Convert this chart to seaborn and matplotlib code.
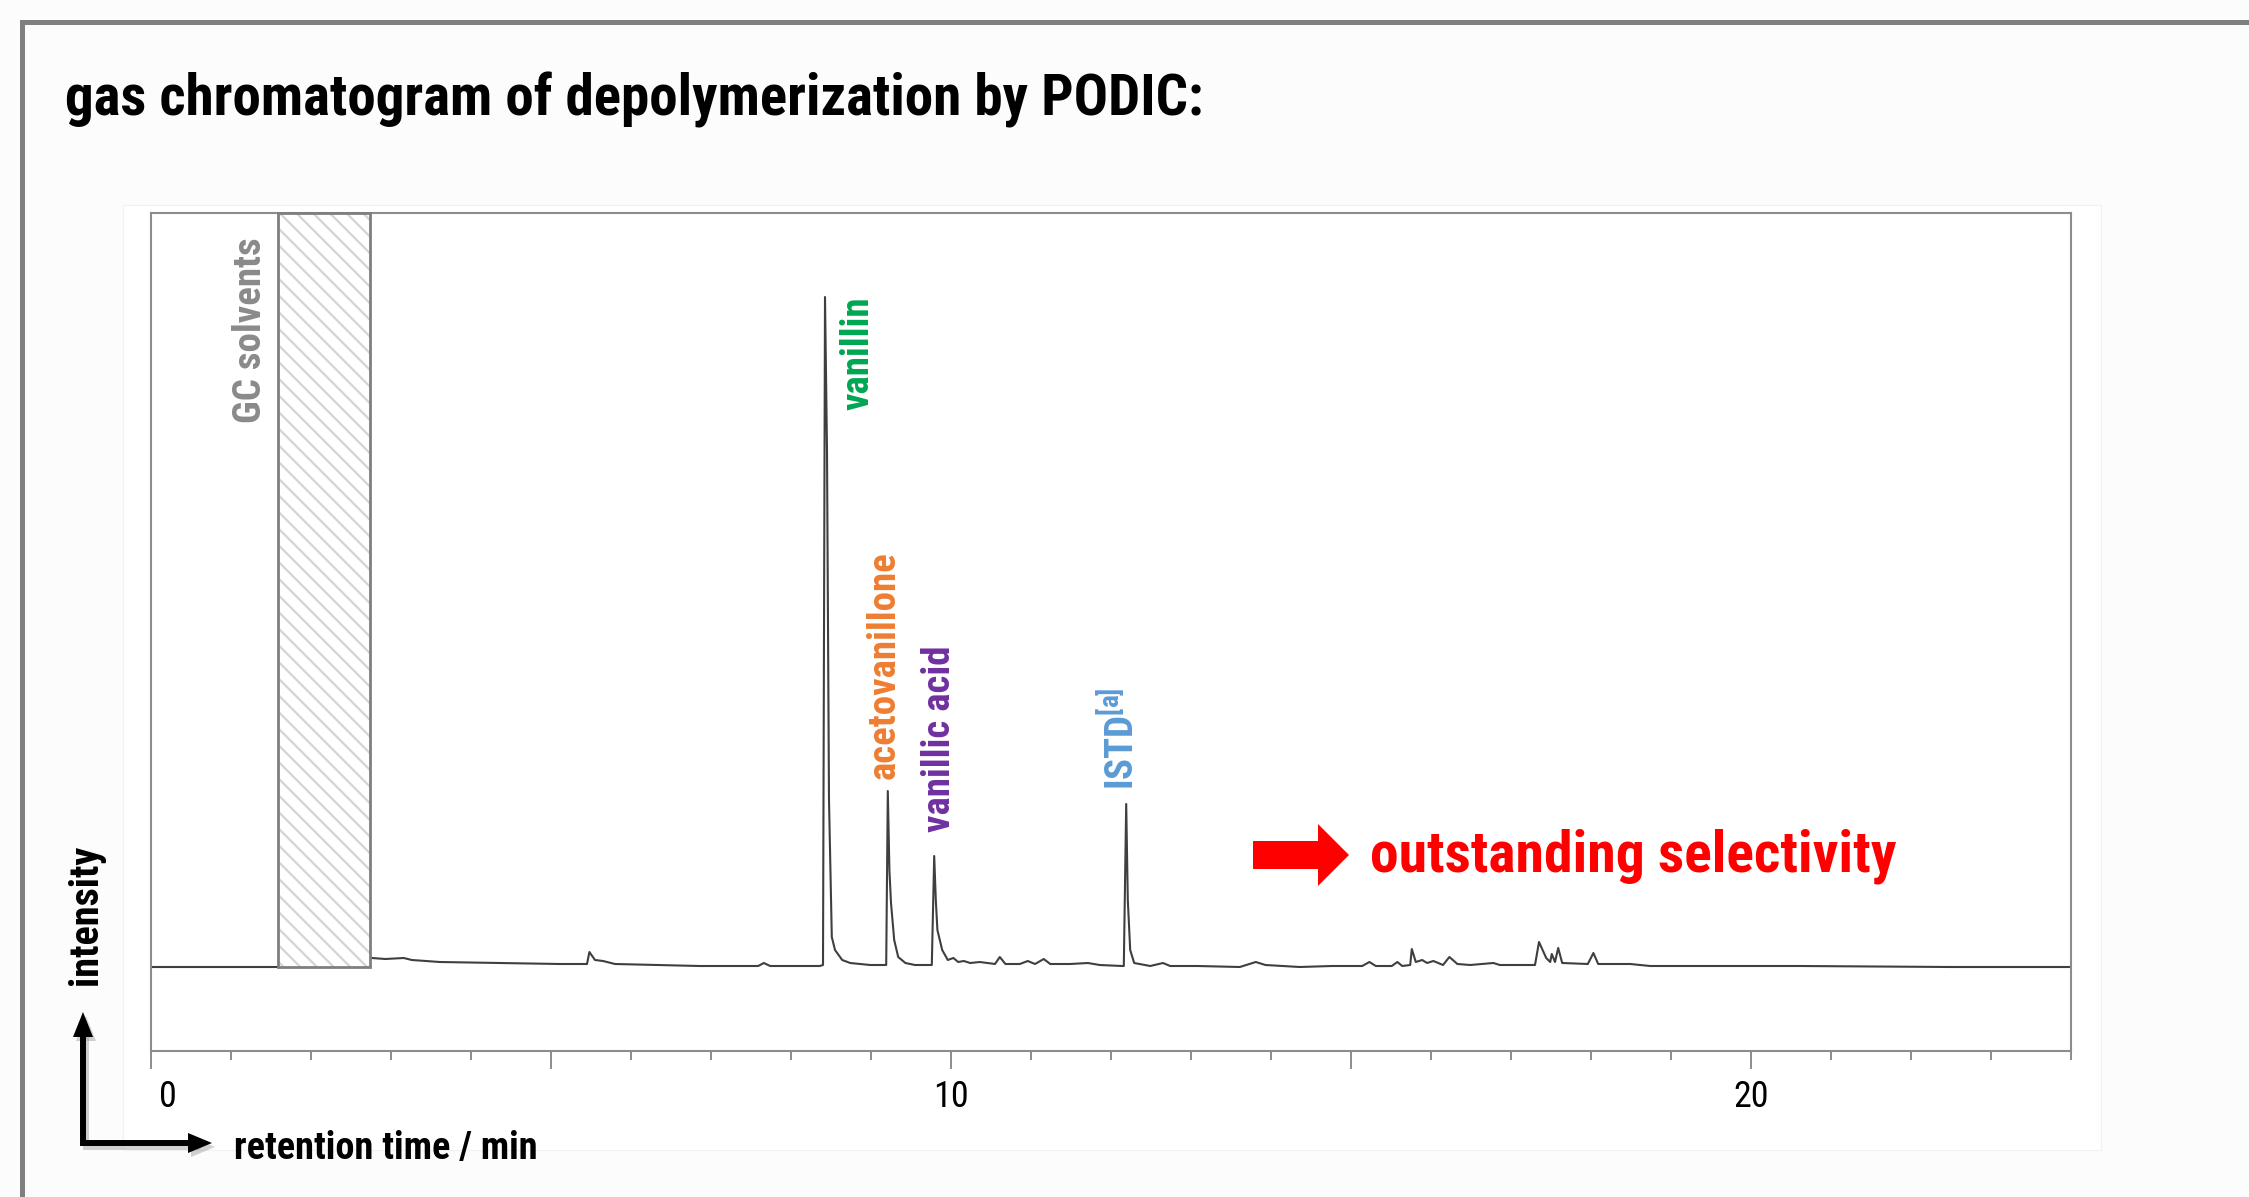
import matplotlib
matplotlib.use("Agg")
import matplotlib.pyplot as plt
import seaborn as sns
import pandas as pd
from matplotlib import font_manager
from matplotlib.patches import Rectangle, Polygon
from matplotlib.lines import Line2D
from matplotlib.ticker import MultipleLocator, FixedLocator
from matplotlib.transforms import ScaledTranslation

# ---------------------------------------------------------------------------
# chromatogram trace: retention time (min) and detector signal (a.u.)
# ---------------------------------------------------------------------------
retention_time = [
    0.00, 1.59, 2.76, 2.93, 3.16, 3.26, 3.61, 4.36, 5.11, 5.45,
    5.48, 5.55, 5.65, 5.80, 6.86, 7.59, 7.66, 7.74, 8.36, 8.40,
    8.425, 8.45, 8.475, 8.51, 8.55, 8.64, 8.74, 8.99, 9.16, 9.19,
    9.21, 9.23, 9.25, 9.29, 9.34, 9.43, 9.55, 9.74, 9.76, 9.79,
    9.81, 9.83, 9.89, 9.96, 10.03, 10.09, 10.16, 10.24, 10.36, 10.55,
    10.61, 10.68, 10.86, 10.96, 11.05, 11.16, 11.24, 11.49, 11.71, 11.86,
    12.14, 12.16, 12.19, 12.21, 12.24, 12.29, 12.49, 12.65, 12.74, 13.08,
    13.61, 13.81, 13.93, 14.36, 14.76, 15.14, 15.23, 15.31, 15.51, 15.58,
    15.64, 15.74, 15.76, 15.81, 15.89, 15.95, 16.03, 16.15, 16.23, 16.33,
    16.49, 16.78, 16.86, 17.30, 17.35, 17.44, 17.49, 17.51, 17.55, 17.59,
    17.64, 17.96, 18.03, 18.09, 18.49, 18.74, 20.61, 22.49, 24.00,
]
signal = [
    0, 0, 9, 8, 9, 7, 5, 4, 3, 3,
    15, 7, 6, 3, 1, 1, 4, 1, 1, 2,
    670, 517, 167, 30, 17, 7, 4, 2, 2, 2,
    176, 97, 64, 27, 10, 4, 2, 2, 2, 111,
    67, 37, 17, 7, 9, 5, 6, 4, 5, 3,
    10, 3, 3, 6, 3, 8, 3, 3, 4, 2,
    1, 1, 163, 67, 17, 4, 1, 4, 1, 1,
    0, 5, 2, 0, 1, 1, 5, 1, 1, 5,
    1, 2, 18, 5, 7, 4, 6, 2, 10, 3,
    2, 4, 2, 2, 25, 9, 5, 13, 5, 19,
    4, 3, 14, 3, 3, 1, 1, 0, 0,
]

# solvent window masked out of the trace (min)
solvent_window = [1.59, 2.74]

# identified compounds
peak_names = ["vanillin", "acetovanillone", "vanillic acid", "ISTD$^{[a]}$"]

# x-axis ticks (min)
major_ticks = [0, 5, 10, 15, 20]
major_labels = ["0", "", "10", "", "20"]


def pick_font(candidates):
    for name in candidates:
        try:
            font_manager.findfont(font_manager.FontProperties(family=name),
                                  fallback_to_default=False)
            return name
        except ValueError:
            continue
    return "DejaVu Sans"


sns.set_theme(style="white")
NARROW = pick_font(["Liberation Sans Narrow", "Roboto Condensed",
                    "Liberation Sans", "Roboto"])
plt.rcParams["font.family"] = [NARROW, "DejaVu Sans"]
plt.rcParams["mathtext.fontset"] = "custom"
plt.rcParams["mathtext.rm"] = NARROW + ":bold"
plt.rcParams["mathtext.it"] = NARROW + ":bold"
plt.rcParams["mathtext.bf"] = NARROW + ":bold"
plt.rcParams["hatch.linewidth"] = 1.6

W, H = 2249, 1197
fig = plt.figure(figsize=(W / 100, H / 100), dpi=100, facecolor="#fcfcfc")


def fx(x):
    return x / W


def fy(y):
    return 1 - y / H


# outer slide frame (left and top edges)
fig.add_artist(Line2D([fx(22), fx(22), fx(W)], [fy(H), fy(22), fy(22)],
                      transform=fig.transFigure, color="#7f7f7f", lw=3.6,
                      solid_joinstyle="miter"))

# faint panel behind the chromatogram
fig.add_artist(Rectangle((fx(123), fy(1150)), fx(2101) - fx(123),
                         fy(205) - fy(1150), transform=fig.transFigure,
                         facecolor="white", edgecolor="#f1f1f1", lw=0.8,
                         zorder=0))

fig.text(fx(65), fy(116), "gas chromatogram of depolymerization by PODIC:",
         fontsize=41, fontweight="bold", color="black", ha="left",
         va="baseline")

# ---------------------------------------------------------------------------
# chromatogram axes
# ---------------------------------------------------------------------------
ymin, ymax = -84, 754
ax = fig.add_axes([fx(151), fy(1051), fx(2071) - fx(151), fy(213) - fy(1051)])
ax.set_facecolor("white")

df = pd.DataFrame({"rt": retention_time, "signal": signal})
sns.lineplot(data=df, x="rt", y="signal", ax=ax, color="#3f3f3f", lw=1.5,
             sort=False, estimator=None, zorder=2)

ax.set_xlim(0, 24)
ax.set_ylim(ymin, ymax)
ax.set_xlabel("")
ax.set_ylabel("")
ax.set_yticks([])

# hatched solvent window
s0, s1 = solvent_window
ax.add_patch(Rectangle((s0, 0), s1 - s0, ymax, facecolor="white",
                       edgecolor="#d4d4d4", hatch="\\\\", lw=0, zorder=3))
ax.add_patch(Rectangle((s0, 0), s1 - s0, ymax, fill=False,
                       edgecolor="#7f7f7f", lw=2.0, zorder=4, clip_on=False))

for side in ["left", "right", "top", "bottom"]:
    ax.spines[side].set_color("#8c8c8c")
    ax.spines[side].set_linewidth(1.5)

ax.xaxis.set_major_locator(FixedLocator(major_ticks))
ax.set_xticklabels(major_labels)
ax.xaxis.set_minor_locator(MultipleLocator(1))
ax.tick_params(axis="x", which="major", direction="out", length=13, width=1.4,
               color="#8c8c8c", labelsize=26, labelcolor="black", pad=7,
               bottom=True)
ax.tick_params(axis="x", which="minor", direction="out", length=6.5,
               width=1.4, color="#8c8c8c", bottom=True)
first = ax.get_xticklabels()[0]
first.set_transform(first.get_transform()
                    + ScaledTranslation(0.17, 0, fig.dpi_scale_trans))

# peak annotations
label_kw = dict(rotation=90, ha="center", fontsize=28, fontweight="bold",
                zorder=5)
ax.text(8.84, 670, peak_names[0], va="top", color="#00a651", **label_kw)
ax.text(9.17, 188, peak_names[1], va="bottom", color="#ed7d31", **label_kw)
ax.text(9.85, 135, peak_names[2], va="bottom", color="#7030a0", **label_kw)
ax.text(12.13, 177, peak_names[3], va="bottom", color="#5b9bd5", **label_kw)
ax.text(1.24, 730, "GC solvents", va="top", color="#8a8a8a", **label_kw)

# ---------------------------------------------------------------------------
# axis arrows and captions
# ---------------------------------------------------------------------------
def l_arrow(dx, dy, color, alpha, z):
    cx, cy = 83 + dx, 1143 + dy
    fig.add_artist(Line2D([fx(cx), fx(cx), fx(195 + dx)],
                          [fy(1032 + dy), fy(cy), fy(cy)],
                          transform=fig.transFigure, color=color, lw=4.3,
                          alpha=alpha, solid_joinstyle="miter", zorder=z))
    fig.add_artist(Polygon([(fx(cx), fy(1012 + dy)), (fx(cx - 10), fy(1037 + dy)),
                            (fx(cx + 10), fy(1037 + dy))], closed=True,
                           transform=fig.transFigure, color=color, alpha=alpha,
                           lw=0, zorder=z))
    fig.add_artist(Polygon([(fx(212 + dx), fy(cy)), (fx(188 + dx), fy(cy - 10)),
                            (fx(188 + dx), fy(cy + 10))], closed=True,
                           transform=fig.transFigure, color=color, alpha=alpha,
                           lw=0, zorder=z))


l_arrow(3, 4, "#9a9a9a", 0.45, 1)
l_arrow(0, 0, "black", 1.0, 2)

fig.text(fx(86), fy(915), "intensity", rotation=90, ha="center", va="center",
         fontsize=29, fontweight="bold", color="black")
fig.text(fx(234), fy(1159), "retention time / min", ha="left", va="baseline",
         fontsize=27.5, fontweight="bold", color="black")

# highlight arrow and statement
fig.add_artist(Polygon([(fx(1253), fy(841)), (fx(1318), fy(841)),
                        (fx(1318), fy(824)), (fx(1349), fy(855)),
                        (fx(1318), fy(886)), (fx(1318), fy(869)),
                        (fx(1253), fy(869))], closed=True,
                       transform=fig.transFigure, color="#ff0000", lw=0))
fig.text(fx(1370), fy(872), "outstanding selectivity", ha="left",
         va="baseline", fontsize=41.5, fontweight="bold", color="#ff0000")

fig.savefig("out.png", dpi=100, facecolor=fig.get_facecolor())
